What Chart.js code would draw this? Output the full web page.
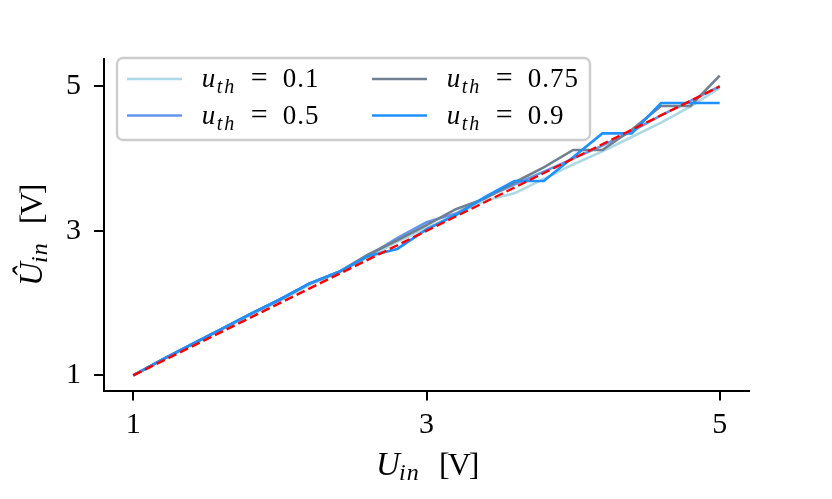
<!DOCTYPE html>
<html>
<head>
<meta charset="utf-8">
<script src="https://cdn.jsdelivr.net/npm/chart.js@4.4.1/dist/chart.umd.min.js"></script>
<style>
html,body{margin:0;padding:0;background:#fff;}
#c{display:block;}
</style>
</head>
<body>
<canvas id="c" width="832" height="499" style="width:832px;height:499px"></canvas>
<script>
// ---- data ----
const xValues = [1.0,1.2,1.4,1.6,1.8,2.0,2.2,2.4,2.6,2.8,3.0,3.2,3.4,3.6,3.8,4.0,4.2,4.4,4.6,4.8,5.0];
const uth01  = [1.00,1.22,1.43,1.63,1.83,2.03,2.25,2.42,2.63,2.85,3.04,3.22,3.42,3.52,3.72,3.92,4.10,4.30,4.50,4.72,4.98];
const uth05  = [1.00,1.22,1.43,1.64,1.85,2.05,2.27,2.43,2.65,2.90,3.12,3.24,3.46,3.64,3.82,4.00,4.18,4.38,4.60,4.80,5.00];
const uth075 = [1.00,1.22,1.43,1.64,1.85,2.05,2.27,2.43,2.67,2.87,3.08,3.30,3.45,3.67,3.88,4.12,4.12,4.40,4.73,4.73,5.15];
const uth09  = [1.00,1.22,1.43,1.64,1.85,2.05,2.27,2.43,2.65,2.75,3.02,3.22,3.47,3.69,3.69,4.02,4.35,4.35,4.77,4.77,4.77];
const idealX = [1, 5];
const idealY = [1, 5];
const seriesLabels = ['0.1','0.5','0.75','0.9'];
const xTicks = [1,3,5];
const yTicks = [1,3,5];

const pts = (xs, ys) => xs.map((x,i)=>({x:x, y:ys[i]}));
const colors = ['#add8e6','#6495ed','#708090','#1e90ff'];
const allSeries = [uth01, uth05, uth075, uth09];

const datasets = allSeries.map((s,i)=>({
  label: seriesLabels[i],
  data: pts(xValues, s),
  borderColor: colors[i],
  backgroundColor: colors[i],
  borderWidth: 2.6,
  pointRadius: 0,
  tension: 0,
  fill: false,
  order: 4 - i
}));
datasets.push({
  label: 'ideal',
  data: pts(idealX, idealY),
  borderColor: '#ff0000',
  borderWidth: 2.4,
  borderDash: [9, 4],
  pointRadius: 0,
  fill: false,
  order: 0
});

const SERIF = '"Liberation Serif", "DejaVu Serif", serif';

function txt(ctx, t, x, y, size, italic, ls){
  ctx.font = (italic ? 'italic ' : '') + size + 'px ' + SERIF;
  ctx.letterSpacing = (ls || 0) + 'px';
  ctx.fillText(t, x, y);
  ctx.letterSpacing = '0px';
}

const decorPlugin = {
  id: 'decor',
  afterDraw(chart){
    const ctx = chart.ctx;
    ctx.save();
    ctx.fillStyle = '#000';
    ctx.textBaseline = 'alphabetic';
    ctx.textAlign = 'left';
    // x title: U_in [V]
    const x0 = 376, bl = 475;
    txt(ctx, 'U', x0, bl, 33, true);
    txt(ctx, 'in', x0 + 23, bl + 5, 24, true, 1);
    txt(ctx, '[V]', x0 + 63, bl, 32, false, -2);
    // y title: Û_in [V]
    ctx.translate(42, 286);
    ctx.rotate(-Math.PI/2);
    txt(ctx, 'Û', 0, 0, 33, true);
    txt(ctx, 'in', 23, 5, 24, true, 1);
    txt(ctx, '[V]', 62, 0, 32, false, -2);
    ctx.restore();

    // legend
    ctx.save();
    const bx = 117, by = 58, bw = 473, bh = 82;
    ctx.beginPath();
    ctx.roundRect(bx, by, bw, bh, 6);
    ctx.fillStyle = 'rgba(255,255,255,0.85)';
    ctx.fill();
    ctx.lineWidth = 2.4;
    ctx.strokeStyle = '#cccccc';
    ctx.stroke();
    const cols = [[127, 201.7], [372, 446.7]];
    const rows = [79, 115.5];
    const order = [[0,0],[1,0],[0,1],[1,1]]; // [row, col] for series 0..3
    for (let i=0;i<4;i++){
      const ds = chart.data.datasets[i];
      const [r,c] = order[i];
      const y = rows[r];
      ctx.strokeStyle = ds.borderColor;
      ctx.lineWidth = 2.6;
      ctx.beginPath();
      ctx.moveTo(cols[c][0], y);
      ctx.lineTo(cols[c][0]+55, y);
      ctx.stroke();
      ctx.fillStyle = '#000';
      const tx = cols[c][1], base = y + 8;
      txt(ctx, 'u', tx, base, 27, true);
      txt(ctx, 'th', tx + 15, base + 6, 20, true, 2);
      txt(ctx, '=', tx + 49, base, 30, false);
      txt(ctx, ds.label, tx + 81, base, 27, false, 1);
    }
    ctx.restore();
  }
};

new Chart(document.getElementById('c'), {
  type: 'line',
  data: { datasets },
  plugins: [decorPlugin],
  options: {
    responsive: false,
    animation: false,
    devicePixelRatio: 1,
    layout: { padding: { top: 59, right: 83, left: 0, bottom: 0 } },
    plugins: { legend: { display: false }, tooltip: { enabled: false } },
    scales: {
      x: {
        type: 'linear',
        min: 0.8, max: 5.2,
        afterBuildTicks: s => { s.ticks = xTicks.map(v=>({value:v})); },
        afterFit: s => { s.height = 108.5; },
        grid: { drawOnChartArea: false, drawTicks: true, tickLength: 10, color: '#000', lineWidth: 2 },
        border: { display: true, color: '#000', width: 2 },
        ticks: { color: '#000', padding: 7, font: { family: SERIF, size: 30 }, maxRotation: 0, autoSkip: false }
      },
      y: {
        type: 'linear',
        min: 0.79, max: 5.38,
        afterBuildTicks: s => { s.ticks = yTicks.map(v=>({value:v})); },
        afterFit: s => { s.width = 104; },
        grid: { drawOnChartArea: false, drawTicks: true, tickLength: 10, color: '#000', lineWidth: 2 },
        border: { display: true, color: '#000', width: 2 },
        ticks: { color: '#000', padding: 13, font: { family: SERIF, size: 30 }, autoSkip: false }
      }
    }
  }
});
</script>
</body>
</html>
